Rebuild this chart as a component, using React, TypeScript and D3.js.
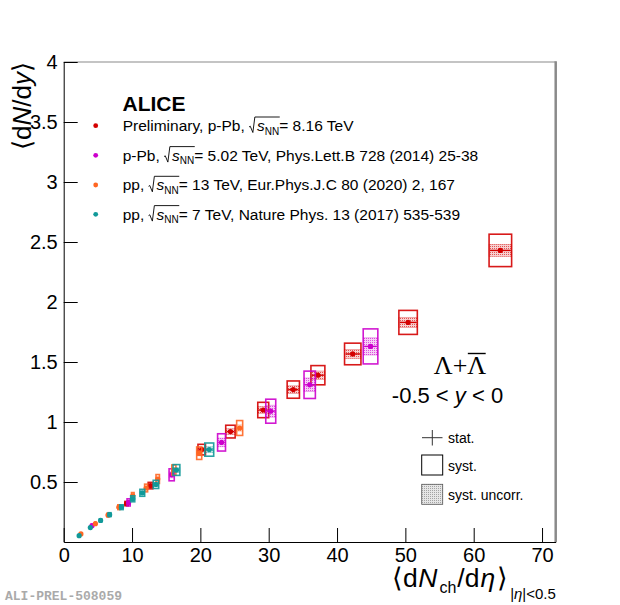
import React, { useEffect, useRef } from 'react';
import * as d3 from 'd3';

const W = 620;
const H = 605;
const FONT = '"Liberation Sans", Arial, Helvetica, sans-serif';

// Preliminary p-Pb 8.16 TeV
const redX = [9.2, 12.7, 20.2, 24.4, 29.2, 33.6, 37.2, 42.3, 50.4, 63.9];
const redY = [0.32, 0.47, 0.77, 0.92, 1.1, 1.27, 1.39, 1.567, 1.83, 2.43];
const redSysX = [0.25, 0.34, 0.55, 0.69, 0.8, 0.9, 1.02, 1.2, 1.35, 1.65];
const redSysY = [0.018, 0.027, 0.044, 0.053, 0.064, 0.072, 0.08, 0.09, 0.1, 0.135];
const redUncY = [0.01, 0.012, 0.02, 0.024, 0.028, 0.032, 0.035, 0.037, 0.042, 0.05];

// p-Pb 5.02 TeV
const magX = [4.14, 9.5, 15.8, 23.1, 30.3, 36.0, 44.9];
const magY = [0.136, 0.33, 0.56, 0.83, 1.09, 1.31, 1.63];
const magSysX = [0.1, 0.23, 0.38, 0.58, 0.73, 0.83, 1.07];
const magSysY = [0.012, 0.03, 0.05, 0.072, 0.1, 0.114, 0.146];
const magUncY = [0.006, 0.015, 0.025, 0.036, 0.05, 0.057, 0.072];

// pp 13 TeV
const orX = [2.52, 4.64, 6.48, 8.07, 10.11, 12.06, 13.76, 16.12, 19.83, 25.75];
const orY = [0.067, 0.153, 0.225, 0.29, 0.385, 0.45, 0.525, 0.6, 0.74, 0.95];
const orSysX = [0.05, 0.09, 0.12, 0.15, 0.19, 0.22, 0.25, 0.3, 0.37, 0.44];
const orSysY = [0.005, 0.011, 0.016, 0.02, 0.027, 0.032, 0.037, 0.042, 0.052, 0.062];
const orUncY = [0.002, 0.005, 0.007, 0.009, 0.012, 0.014, 0.016, 0.018, 0.022, 0.026];

// pp 7 TeV
const tealX = [2.26, 3.9, 5.4, 6.72, 8.45, 10.1, 11.5, 13.5, 16.5, 21.3];
const tealY = [0.053, 0.12, 0.18, 0.228, 0.29, 0.36, 0.41, 0.48, 0.6, 0.77];
const tealSysX = [0.07, 0.12, 0.16, 0.2, 0.25, 0.3, 0.35, 0.4, 0.5, 0.65];
const tealSysY = [0.005, 0.009, 0.013, 0.016, 0.02, 0.025, 0.029, 0.034, 0.045, 0.055];
const tealUncY = [0.002, 0.004, 0.006, 0.007, 0.009, 0.011, 0.013, 0.015, 0.02, 0.024];

const xTicks = [0, 10, 20, 30, 40, 50, 60, 70];
const yTicks = [0.5, 1, 1.5, 2, 2.5, 3, 3.5, 4];

const legendRows = [
  { color: '#d40000', prefix: 'Preliminary, p-Pb, ', suffix: '= 8.16 TeV' },
  { color: '#cc00cc', prefix: 'p-Pb, ', suffix: '= 5.02 TeV, Phys.Lett.B 728 (2014) 25-38' },
  { color: '#ff6622', prefix: 'pp, ', suffix: '= 13 TeV, Eur.Phys.J.C 80 (2020) 2, 167' },
  { color: '#119999', prefix: 'pp, ', suffix: '= 7 TeV, Nature Phys. 13 (2017) 535-539' },
];

export default function App() {
  const ref = useRef<SVGSVGElement>(null);

  useEffect(() => {
    const svg = d3.select(ref.current as SVGSVGElement);
    svg.selectAll('*').remove();

    const x = d3.scaleLinear().domain([0, 72]).range([63.7, 555.7]);
    const y = d3.scaleLinear().domain([0, 4]).range([542, 62]);

    const defs = svg.append('defs');
    const mkPattern = (id: string, color: string) => {
      const p = defs
        .append('pattern')
        .attr('id', id)
        .attr('width', 2)
        .attr('height', 2)
        .attr('patternUnits', 'userSpaceOnUse');
      p.append('rect').attr('width', 2).attr('height', 2).attr('fill', color).attr('opacity', 0.18);
      p.append('rect').attr('width', 1).attr('height', 1).attr('fill', color).attr('opacity', 0.6);
    };

    const series = [
      { id: 'red', color: '#d40000', xs: redX, ys: redY, sx: redSysX, sy: redSysY, uy: redUncY },
      { id: 'mag', color: '#cc00cc', xs: magX, ys: magY, sx: magSysX, sy: magSysY, uy: magUncY },
      { id: 'or', color: '#ff6622', xs: orX, ys: orY, sx: orSysX, sy: orSysY, uy: orUncY },
      { id: 'teal', color: '#119999', xs: tealX, ys: tealY, sx: tealSysX, sy: tealSysY, uy: tealUncY },
    ];
    series.forEach((s) => mkPattern('pat-' + s.id, s.color));
    mkPattern('pat-gray', '#777');

    svg.append('rect').attr('width', W).attr('height', H).attr('fill', '#fff');

    // frame top/right
    svg
      .append('line')
      .attr('x1', x(0))
      .attr('x2', x(72))
      .attr('y1', y(4))
      .attr('y2', y(4))
      .attr('stroke', '#b0b0b0')
      .attr('stroke-width', 1.5);
    svg
      .append('line')
      .attr('x1', x(72))
      .attr('x2', x(72))
      .attr('y1', y(4) - 0.75)
      .attr('y2', y(0))
      .attr('stroke', '#8a8a8a')
      .attr('stroke-width', 2.5);

    // axes
    const xMinor = d3.range(0, 73, 2).filter((v) => v % 10 !== 0);
    const yMinor = d3.range(1, 40).map((v) => v / 10).filter((v) => Math.round(v * 10) % 5 !== 0);

    const gx = svg.append('g').attr('transform', `translate(0,${y(0)})`);
    gx.call(
      d3.axisBottom(x).tickValues(xMinor).tickSize(-7).tickSizeOuter(0).tickFormat(() => '')
    );
    gx.call(
      d3.axisBottom(x).tickValues(xTicks).tickSize(-14).tickSizeOuter(0).tickPadding(6).tickFormat(d3.format('d'))
    );
    gx.selectAll('text').attr('font-size', 20).attr('font-family', FONT).attr('fill', '#000');
    gx.selectAll('line').attr('stroke', '#000');
    gx.selectAll('path').attr('stroke', '#000');

    const gy = svg.append('g').attr('transform', `translate(${x(0)},0)`);
    gy.call(d3.axisLeft(y).tickValues(yMinor).tickSize(-7).tickSizeOuter(0).tickFormat(() => ''));
    gy.call(
      d3.axisLeft(y).tickValues(yTicks).tickSize(-14).tickSizeOuter(0).tickPadding(6).tickFormat((d) => String(d))
    );
    gy.selectAll('text').attr('font-size', 20).attr('font-family', FONT).attr('fill', '#000');
    gy.selectAll('line').attr('stroke', '#000');
    gy.selectAll('path').attr('stroke', '#000');

    // data
    const gData = svg.append('g');
    series.forEach((s) => {
      const g = gData.append('g');
      s.xs.forEach((xv, i) => {
        const yv = s.ys[i];
        const x0 = x(xv - s.sx[i]);
        const x1 = x(xv + s.sx[i]);
        g.append('rect')
          .attr('x', x0)
          .attr('y', y(yv + s.uy[i]))
          .attr('width', x1 - x0)
          .attr('height', y(yv - s.uy[i]) - y(yv + s.uy[i]))
          .attr('fill', `url(#pat-${s.id})`)
          .attr('stroke', s.color)
          .attr('stroke-opacity', 0.35)
          .attr('stroke-width', 0.8);
        g.append('rect')
          .attr('x', x0)
          .attr('y', y(yv + s.sy[i]))
          .attr('width', x1 - x0)
          .attr('height', y(yv - s.sy[i]) - y(yv + s.sy[i]))
          .attr('fill', 'none')
          .attr('stroke', s.color)
          .attr('stroke-width', 1.6)
          .attr('stroke-opacity', 0.9);
        g.append('line')
          .attr('x1', x0 + 1)
          .attr('x2', x1 - 1)
          .attr('y1', y(yv))
          .attr('y2', y(yv))
          .attr('stroke', s.color)
          .attr('stroke-width', 1.4);
        g.append('circle').attr('cx', x(xv)).attr('cy', y(yv)).attr('r', 2.6).attr('fill', s.color);
      });
    });

    // ALICE
    svg
      .append('text')
      .attr('x', 122.5)
      .attr('y', 111)
      .attr('font-family', FONT)
      .attr('font-weight', 'bold')
      .attr('font-size', 21)
      .text('ALICE');

    // legend rows
    const fs = 15.5;
    const rowY = [125.7, 155.3, 185, 214.3];
    legendRows.forEach((r, i) => {
      const cy = rowY[i];
      svg.append('circle').attr('cx', 95.7).attr('cy', cy).attr('r', 2.4).attr('fill', r.color);
      const base = cy + 5.3;
      const t = svg
        .append('text')
        .attr('x', 122.7)
        .attr('y', base)
        .attr('font-family', FONT)
        .attr('font-size', fs)
        .attr('fill', '#000');
      t.append('tspan').text(r.prefix);
      t.append('tspan').attr('dx', 8).attr('font-style', 'italic').text('s');
      t.append('tspan').attr('font-size', 10).attr('dy', 3.5).text('NN');
      t.append('tspan').attr('dy', -3.5).text(r.suffix);
      const node = t.node() as SVGTextElement;
      const iS = r.prefix.length;
      const sx0 = node.getStartPositionOfChar(iS).x;
      const sx1 = node.getEndPositionOfChar(iS + 2).x;
      const top = base - 14;
      svg
        .append('path')
        .attr(
          'd',
          `M${sx0 - 8},${base - 4} L${sx0 - 6.8},${base - 4.8} L${sx0 - 4.2},${base + 1.5} L${sx0 - 2.2},${top} L${sx1 + 0.5},${top}`
        )
        .attr('fill', 'none')
        .attr('stroke', '#000')
        .attr('stroke-width', 0.9);
    });

    // Lambda + anti-Lambda
    const lam = svg
      .append('text')
      .attr('x', 460)
      .attr('y', 374)
      .attr('text-anchor', 'middle')
      .attr('font-family', '"Liberation Serif", "Times New Roman", serif')
      .attr('font-size', 26)
      .text('Λ+Λ');
    const ln = lam.node() as SVGTextElement;
    const l0 = ln.getStartPositionOfChar(2).x;
    const l1 = ln.getEndPositionOfChar(2).x;
    svg
      .append('line')
      .attr('x1', l0 + 0.5)
      .attr('x2', l1 - 0.5)
      .attr('y1', 353.5)
      .attr('y2', 353.5)
      .attr('stroke', '#000')
      .attr('stroke-width', 1.4);

    const rap = svg
      .append('text')
      .attr('x', 447.5)
      .attr('y', 402.5)
      .attr('text-anchor', 'middle')
      .attr('font-family', FONT)
      .attr('font-size', 22);
    rap.append('tspan').text('-0.5 < ');
    rap.append('tspan').attr('font-style', 'italic').text('y');
    rap.append('tspan').text(' < 0');

    // stat/syst legend
    const lg = svg.append('g').attr('font-family', FONT).attr('font-size', 14);
    lg.append('line').attr('x1', 422).attr('x2', 442.5).attr('y1', 437.7).attr('y2', 437.7).attr('stroke', '#333');
    lg.append('line').attr('x1', 432.3).attr('x2', 432.3).attr('y1', 430).attr('y2', 445.5).attr('stroke', '#333');
    lg.append('text').attr('x', 448).attr('y', 442.5).text('stat.');
    lg.append('rect')
      .attr('x', 421.7)
      .attr('y', 455)
      .attr('width', 21)
      .attr('height', 20)
      .attr('fill', 'none')
      .attr('stroke', '#000')
      .attr('stroke-width', 1);
    lg.append('text').attr('x', 448).attr('y', 470.5).text('syst.');
    lg.append('rect')
      .attr('x', 421.7)
      .attr('y', 484.3)
      .attr('width', 21)
      .attr('height', 20)
      .attr('fill', 'url(#pat-gray)')
      .attr('stroke', '#555')
      .attr('stroke-width', 0.8);
    lg.append('text').attr('x', 448).attr('y', 499.5).text('syst. uncorr.');

    // x-axis title
    const xt = svg
      .append('text')
      .attr('x', 392)
      .attr('y', 587)
      .attr('font-family', FONT)
      .attr('font-size', 26.5)
      .attr('fill', '#000');
    xt.append('tspan').text('⟨d');
    xt.append('tspan').attr('font-style', 'italic').attr('dx', 0.5).text('N');
    xt.append('tspan').attr('font-size', 16).attr('dy', 6).attr('dx', 2).text('ch');
    xt.append('tspan').attr('dy', -6).attr('dx', 1).text('/d');
    xt.append('tspan').attr('font-style', 'italic').attr('dx', 1).text('η');
    xt.append('tspan').attr('dx', 2).text('⟩');
    xt.append('tspan').attr('font-size', 15).attr('dy', 12).attr('dx', 2).text('|');
    xt.append('tspan').attr('font-size', 15).attr('font-style', 'italic').text('η');
    xt.append('tspan').attr('font-size', 15).text('|<0.5');

    const yt = svg
      .append('text')
      .attr('transform', `translate(31,62) rotate(-90)`)
      .attr('text-anchor', 'end')
      .attr('font-family', FONT)
      .attr('font-size', 26);
    yt.append('tspan').text('⟨d');
    yt.append('tspan').attr('font-style', 'italic').text('N');
    yt.append('tspan').text('/d');
    yt.append('tspan').attr('font-style', 'italic').text('y');
    yt.append('tspan').text('⟩');

    svg
      .append('text')
      .attr('x', 5)
      .attr('y', 600)
      .attr('font-family', '"Liberation Mono", "Courier New", monospace')
      .attr('font-weight', 'bold')
      .attr('font-size', 13)
      .attr('fill', '#aaaaaa')
      .text('ALI-PREL-508059');
  }, []);

  return (
    <svg
      ref={ref}
      width={W}
      height={H}
      style={{ position: 'absolute', left: 0, top: 0, display: 'block' }}
    />
  );
}
